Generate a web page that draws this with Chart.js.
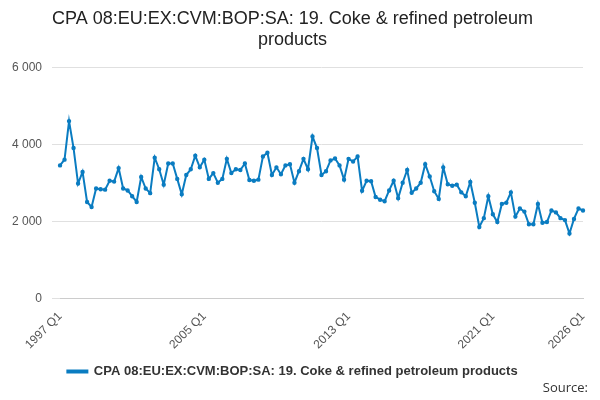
<!DOCTYPE html>
<html><head><meta charset="utf-8">
<script src="https://cdn.jsdelivr.net/npm/chart.js@4"></script>
<style>body{margin:0;background:#fff;font-family:"Open Sans",sans-serif}#w{position:relative;width:600px;height:400px}#src{position:absolute;right:12px;bottom:4px;font-size:13px;color:#333}</style>
</head><body><div id="w"><canvas id="c" width="600" height="400"></canvas><div id="src">Source:</div></div>
<script>
const years=[];for(let y=1997;y<=2026;y++)years.push(y);
const labels=[];years.forEach(y=>{for(let q=1;q<=4;q++){if(y===2026&&q>1)break;labels.push(y+' Q'+q);}});
const values=[3450,3600,4600,3900,2980,3280,2500,2370,2850,2830,2820,3050,3030,3380,2850,2800,2650,2500,3150,2850,2730,3650,3350,2950,3500,3500,3100,2700,3200,3350,3700,3400,3600,3100,3250,3000,3100,3620,3250,3350,3330,3500,3070,3050,3080,3680,3780,3200,3400,3220,3450,3480,3000,3300,3620,3350,4200,3900,3200,3300,3580,3630,3450,3080,3620,3550,3680,2790,3050,3040,2630,2560,2520,2800,3050,2600,3000,3330,2740,2850,3000,3480,3160,2780,2580,3400,2960,2920,2950,2750,2650,3020,2480,1850,2080,2650,2180,1980,2450,2480,2750,2120,2330,2250,1920,1920,2450,1960,1980,2280,2230,2080,2030,1680,2060,2330,2280];
const shown=['1997 Q1','2005 Q1','2013 Q1','2021 Q1','2026 Q1'];
new Chart(document.getElementById('c'),{type:'line',data:{labels,datasets:[{label:'CPA 08:EU:EX:CVM:BOP:SA: 19. Coke & refined petroleum products',data:values,borderColor:'#0a7cc1',backgroundColor:'#0a7cc1',borderWidth:2,pointRadius:1.2,tension:0}]},
options:{responsive:false,animation:false,layout:{padding:{left:2,right:17,bottom:12}},
plugins:{title:{display:true,text:['CPA 08:EU:EX:CVM:BOP:SA: 19. Coke & refined petroleum','products'],font:{size:18,weight:'normal'},color:'#222',padding:{top:8,bottom:16}},
legend:{position:'bottom',labels:{boxWidth:20,boxHeight:2,font:{size:13,weight:'bold'},color:'#333'}}},
scales:{x:{grid:{display:false},border:{color:'#ccc'},ticks:{autoSkip:false,maxRotation:45,minRotation:45,color:'#555',font:{size:12},callback:function(v){const l=this.getLabelForValue(v);return shown.includes(l)?l:'';}}},
y:{min:0,max:6000,border:{display:false},grid:{color:'#e0e0e0'},ticks:{stepSize:2000,color:'#555',font:{size:12},padding:10,callback:v=>v===0?'0':String(v).replace(/\B(?=(\d{3})+$)/,' ')}}}}});
</script></body></html>
